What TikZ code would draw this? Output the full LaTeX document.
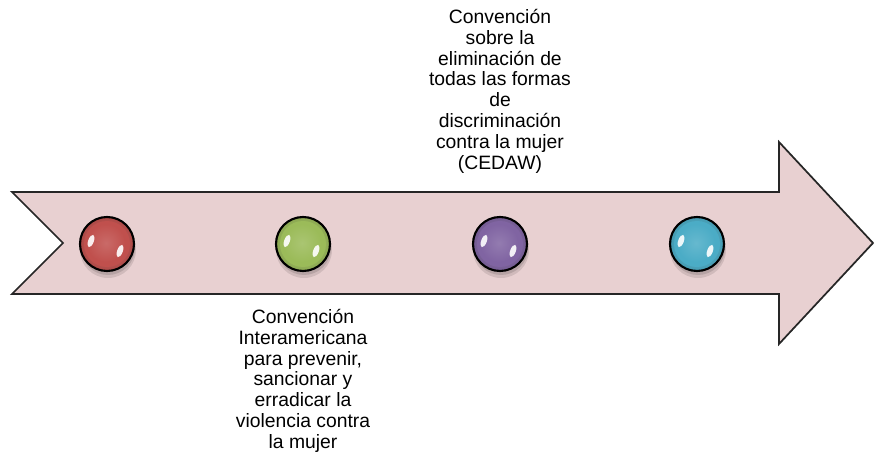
\documentclass[tikz,border=0pt]{standalone}
\usepackage{fontspec}
\setmainfont{Liberation Sans}
\usetikzlibrary{shadings}
\definecolor{arrowfill}{HTML}{E8D0D1}
\definecolor{cred}{HTML}{C0504D}
\definecolor{cgreen}{HTML}{9BBB59}
\definecolor{cpurple}{HTML}{8064A2}
\definecolor{ccyan}{HTML}{4BACC6}
\tikzset{
  label/.style={align=center, inner sep=0pt, font=\fontsize{14.5}{15.6}\selectfont, text=black},
}
\newcommand{\glossyball}[3]{%
  \fill[black, opacity=0.10] (#1+1,#2+6) circle (28);
  \fill[black, opacity=0.12] (#1+1,#2+4) circle (27);
  \shade[inner color=#3!80!white, outer color=#3!90!black] (#1,#2) circle (27);
  \fill[#3] (#1,#2) circle (23);
  \shade[inner color=#3!85!white, outer color=#3] (#1-1,#2-1) circle (19);
  \fill[white, opacity=0.9, rotate around={70:(#1-16,#2-3)}] (#1-16,#2-3) ellipse (6.5 and 2.8);
  \fill[white, opacity=0.9, rotate around={70:(#1+13,#2+7)}] (#1+13,#2+7) ellipse (6.5 and 2.8);
  \draw[black, line width=1.6pt] (#1,#2) circle (27);
}
\begin{document}
\begin{tikzpicture}[x=0.75pt, y=-0.75pt]
\useasboundingbox (0,0) rectangle (875,463);
\draw[fill=arrowfill, draw=black!85, line width=1.3pt, line join=miter]
  (12,192) -- (779,192) -- (779,142) -- (873,243) -- (779,344) -- (779,294)
  -- (12,294) -- (63,243) -- cycle;
\glossyball{107}{244}{cred}
\glossyball{303}{244}{cgreen}
\glossyball{500}{244}{cpurple}
\glossyball{697}{244}{ccyan}
\node[label, anchor=north] (top) at (500,9)
  {Convención\\sobre la\\eliminación de\\todas las formas\\de\\discriminación\\contra la mujer\\(CEDAW)};
\node[label, anchor=north] (bottom) at (303,309)
  {Convención\\Interamericana\\para prevenir,\\sancionar y\\erradicar la\\violencia contra\\la mujer};
\end{tikzpicture}
\end{document}
